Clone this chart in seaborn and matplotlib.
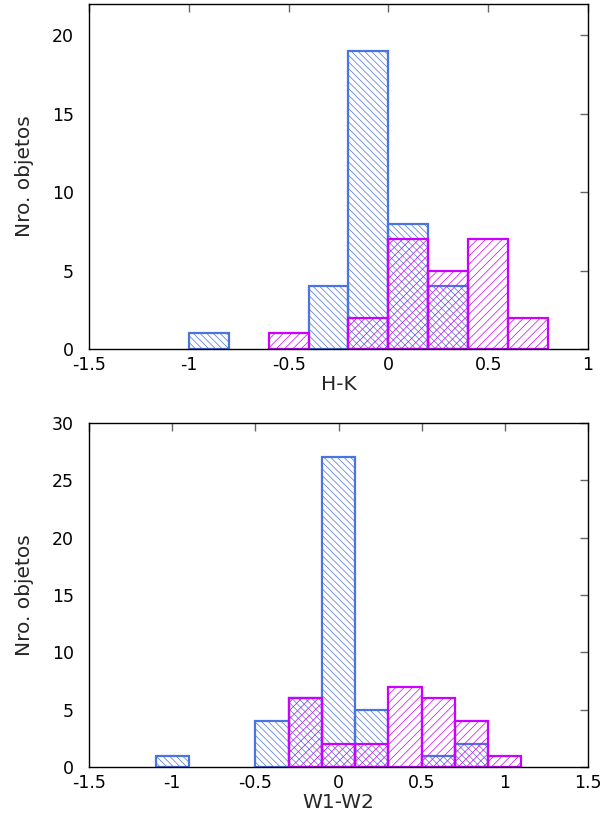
import numpy as np
import pandas as pd
import matplotlib
matplotlib.use("Agg")
import matplotlib.pyplot as plt
import seaborn as sns

# H-K histogram (bin width 0.2)
hk_edges = [-1.0, -0.8, -0.6, -0.4, -0.2, 0.0, 0.2, 0.4, 0.6, 0.8]
hk_blue = [1, 0, 0, 4, 19, 8, 4, 0, 0]
hk_magenta = [0, 0, 1, 0, 2, 7, 5, 7, 2]

# W1-W2 histogram (bin width 0.2)
w_edges = [-1.1, -0.9, -0.7, -0.5, -0.3, -0.1, 0.1, 0.3, 0.5, 0.7, 0.9, 1.1]
w_blue = [1, 0, 0, 4, 6, 27, 5, 0, 1, 2, 0]
w_magenta = [0, 0, 0, 0, 6, 2, 2, 7, 6, 4, 1]

BLUE = "#4a74e0"
MAGENTA = "#cc00ff"

sns.set_style("white")
plt.rcParams["font.family"] = ["DejaVu Sans"]
plt.rcParams["hatch.linewidth"] = 0.5


def draw_hist(ax, edges, counts, color, hatch):
    e = np.array(edges)
    df = pd.DataFrame({"x": (e[:-1] + e[1:]) / 2, "n": counts})
    before = len(ax.patches)
    sns.histplot(data=df, x="x", weights="n", bins=list(edges), ax=ax,
                 fill=True, facecolor="none", edgecolor=color,
                 hatch=hatch, linewidth=1.6)
    # drop empty bins so no line runs along the baseline
    for p in list(ax.patches[before:]):
        if p.get_height() == 0:
            p.remove()


fig = plt.figure(figsize=(6.11, 8.18), dpi=100)
ax1 = fig.add_axes([89 / 611, 1 - 349 / 818, 499 / 611, 345 / 818])
ax2 = fig.add_axes([89 / 611, 1 - 767 / 818, 499 / 611, 344 / 818])

draw_hist(ax1, hk_edges, hk_blue, BLUE, "\\" * 5)
draw_hist(ax1, hk_edges, hk_magenta, MAGENTA, "////")
draw_hist(ax2, w_edges, w_blue, BLUE, "\\" * 5)
draw_hist(ax2, w_edges, w_magenta, MAGENTA, "////")

ax1.set_xlim(-1.5, 1.0)
ax1.set_ylim(0, 22)
ax1.set_xticks([-1.5, -1, -0.5, 0, 0.5, 1])
ax1.set_xticklabels(["-1.5", "-1", "-0.5", "0", "0.5", "1"])
ax1.set_yticks([0, 5, 10, 15, 20])
ax1.set_xlabel("H-K", fontsize=14.5, labelpad=1)

ax2.set_xlim(-1.5, 1.5)
ax2.set_ylim(0, 30)
ax2.set_xticks([-1.5, -1, -0.5, 0, 0.5, 1, 1.5])
ax2.set_xticklabels(["-1.5", "-1", "-0.5", "0", "0.5", "1", "1.5"])
ax2.set_yticks([0, 5, 10, 15, 20, 25, 30])
ax2.set_xlabel("W1-W2", fontsize=14.5, labelpad=1)

for ax in (ax1, ax2):
    ax.set_ylabel("Nro. objetos", fontsize=14.5)
    ax.yaxis.set_label_coords(-55 / 499, 0.5)
    ax.tick_params(direction="in", length=6, width=1, color="#666666",
                   top=True, right=True, labelsize=12.5, labelcolor="black")
    ax.tick_params(axis="y", pad=11)
    ax.tick_params(axis="x", pad=5)
    for s in ax.spines.values():
        s.set_color("black")
        s.set_linewidth(1)
    ax.grid(False)

fig.savefig("out.png", dpi=100)
